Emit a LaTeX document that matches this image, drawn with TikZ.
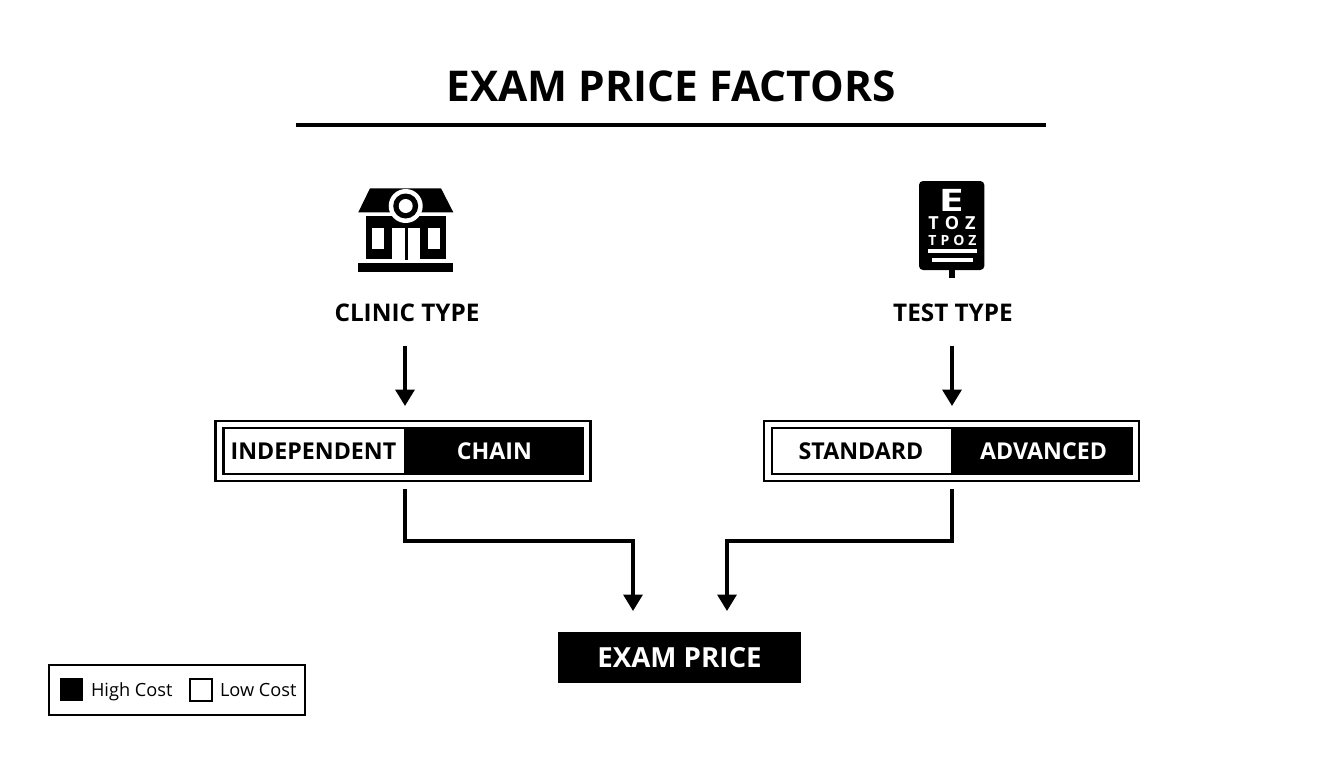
\documentclass[tikz,border=0pt]{standalone}
\usepackage{fontspec}
\setmainfont{Open Sans}
\usetikzlibrary{arrows.meta,calc}
\tikzset{
 lbl/.style={inner sep=0pt,outer sep=0pt,font=\bfseries\fontsize{24.3}{24}\selectfont,text=black},
 ttl/.style={inner sep=0pt,outer sep=0pt,font=\bfseries\fontsize{42.4}{42}\selectfont},
 seg/.style={inner sep=0pt,outer sep=0pt,font=\bfseries\fontsize{23.2}{24}\selectfont},
 legendtext/.style={inner sep=0pt,outer sep=0pt,font=\fontsize{18.2}{18.2}\selectfont},
 framebox/.style={draw=black,line width=2.2pt,fill=white,minimum width=#1,minimum height=60pt,inner sep=0pt,outer sep=0pt},
 innerbox/.style={draw=black,line width=2.4pt,fill=white,minimum height=46pt,inner sep=0pt,outer sep=0pt},
 conn/.style={draw=black,line width=3.6pt,-{Triangle[length=16.5pt,width=19pt]}},
}
\begin{document}
\begin{tikzpicture}[x=1pt,y=-1pt]
\useasboundingbox (0,0) rectangle (1344,768);
% title
\node[ttl] (title) at (671,86) {EXAM PRICE FACTORS};
\coordinate (ruleL) at (296,124.5);
\coordinate (ruleR) at (1046,124.5);
\draw[line width=4pt] (ruleL) -- (ruleR);
% clinic icon
\fill (370,188.3) -- (441,188.3) -- (453.3,212.3) -- (358.3,212.3) -- cycle;
\fill (365.7,215.7) rectangle (446.3,259.3);
\fill[white] (405.7,206) circle (17);
\fill (405.7,206) circle (12.5);
\fill[white] (405.7,206) circle (7);
\fill[white] (372.3,228.3) rectangle (384.3,249);
\fill[white] (427.7,228.3) rectangle (439.7,249);
\fill[white] (391.7,228) rectangle (420,260);
\fill (405,228) rectangle (407.7,260);
\fill (358.3,263.3) rectangle (453.3,271.7);
% chart icon
\fill[rounded corners=4pt] (919,181) rectangle (984.3,270);
\fill (949,269) rectangle (955,278);
\node[inner sep=0pt,text=white,font=\bfseries\fontsize{31}{31}\selectfont,text height=22.5pt,text depth=0pt] (e) at (951.2,200.3) {\scalebox{1.45}[1]{E}};
\node[inner sep=0pt,text=white,font=\bfseries\fontsize{18}{14}\selectfont,text height=13pt,text depth=0pt] (toz) at (952,223.3) {T\hspace{6pt}O\hspace{6pt}Z};
\node[inner sep=0pt,text=white,font=\bfseries\fontsize{14}{14}\selectfont,text height=10pt,text depth=0pt] (tpoz) at (952.5,240) {T\hspace{4pt}P\hspace{4pt}O\hspace{4pt}Z};
\fill[white] (927.7,249.3) rectangle (976.7,253.3);
\fill[white] (931.7,258.3) rectangle (972.7,262);
% labels
\node[lbl] (clinic) at (407,313) {CLINIC TYPE};
\node[lbl] (test) at (953,313) {TEST TYPE};
% bars
\node[framebox=375pt] (barL) at (403,451) {};
\node[innerbox,minimum width=359.5pt] (innL) at (403.3,451) {};
\fill (404,426.5) rectangle (584.2,474.7);
\node[seg] (indep) at (313.5,451) {INDEPENDENT};
\node[seg,text=white] (chain) at (494.5,451) {CHAIN};
\node[framebox=375pt] (barR) at (951.5,451) {};
\node[innerbox,minimum width=359.5pt] (innR) at (951.7,451) {};
\fill (951,426.5) rectangle (1132.6,474.7);
\node[seg] (std) at (861,451) {STANDARD};
\node[seg,text=white] (adv) at (1043.5,451) {ADVANCED};
% result
\node[fill=black,text=white,minimum width=243pt,minimum height=51pt,inner sep=0pt,outer sep=0pt,font=\bfseries\fontsize{27.7}{27}\selectfont] (price) at (679.5,657.5) {EXAM PRICE};
% connectors
\draw[conn] ([xshift=-2pt,yshift=-24pt]clinic.south) -- ([xshift=2pt,yshift=15pt]barL.north);
\draw[conn] ([xshift=-1pt,yshift=-24pt]test.south) -- ([xshift=.5pt,yshift=15pt]barR.north);
\draw[conn] ([xshift=2pt,yshift=-8pt]barL.south) |- ([xshift=-46.5pt,yshift=91pt]price.north) -- ([xshift=-46.5pt,yshift=21pt]price.north);
\draw[conn] ([xshift=.5pt,yshift=-8pt]barR.south) |- ([xshift=47.5pt,yshift=91pt]price.north) -- ([xshift=47.5pt,yshift=21pt]price.north);
% legend
\node[draw=black,line width=2pt,minimum width=256pt,minimum height=50pt,inner sep=0pt,outer sep=0pt] (legend) at (177,690) {};
\node[fill=black,minimum size=23.5pt,inner sep=0pt,outer sep=0pt] (hi) at (71.7,689.5) {};
\node[draw=black,line width=2pt,fill=white,minimum size=22pt,inner sep=0pt,outer sep=0pt] (lo) at (200.5,689.5) {};
\node[legendtext,anchor=base west] (hit) at (91,696) {High Cost};
\node[legendtext,anchor=base west] (lot) at (220,696) {Low Cost};
\end{tikzpicture}
\end{document}
